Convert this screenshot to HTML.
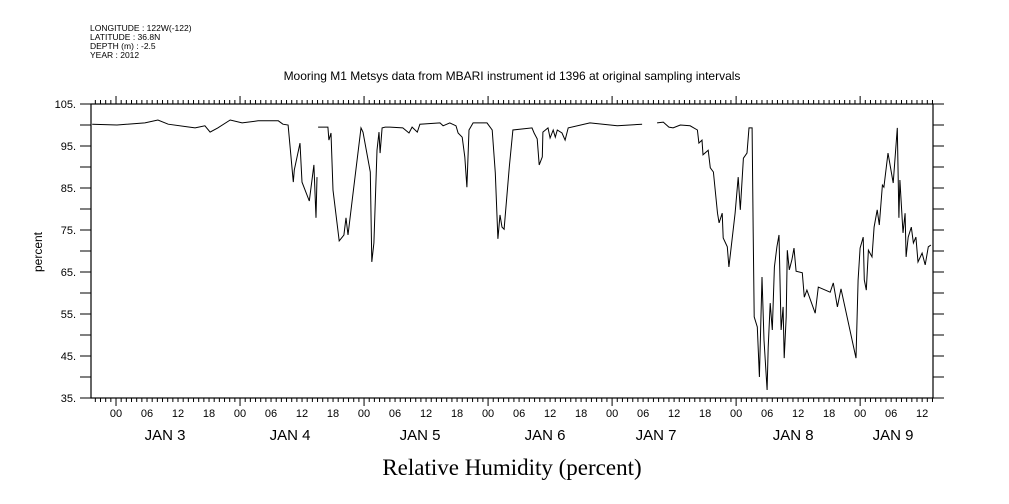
<!DOCTYPE html>
<html><head><meta charset="utf-8"><style>
body{margin:0;background:#fff}
svg{display:block;font-family:"Liberation Sans",sans-serif}
</style></head><body>
<svg id="chart" width="1009" height="504" viewBox="0 0 1009 504">
<g font-size="8.5" fill="#000">
<text x="90" y="31">LONGITUDE : 122W(-122)</text>
<text x="90" y="40">LATITUDE : 36.8N</text>
<text x="90" y="49">DEPTH (m) : -2.5</text>
<text x="90" y="58">YEAR : 2012</text>
</g>
<text x="512" y="80" font-size="12" text-anchor="middle">Mooring M1 Metsys data from MBARI instrument id 1396 at original sampling intervals</text>
<text x="0" y="0" font-size="12" text-anchor="middle" transform="translate(42,252) rotate(-90)">percent</text>
<text x="512" y="475" font-size="23" font-family="Liberation Serif, serif" text-anchor="middle">Relative Humidity (percent)</text>
<g id="axes"></g>
<g id="series"></g>
</svg>
<script>
const hours=[-4.6,0.2,5.6,8.1,10.1,15.3,17.2,18.2,19.7,22.1,24.4,27.5,31.4,32.3,33.3,34.3,34.5,35.6,36.0,37.4,38.3,38.7,38.9,null,
39.1,41.0,41.2,41.6,42.0,43.2,44.1,44.5,44.9,45.7,47.4,47.8,49.2,49.5,49.9,50.5,50.9,51.1,51.5,52.1,53.0,55.5,56.7,57.3,58.3,58.8,62.7,63.3,64.6,65.8,66.2,67.0,67.5,67.9,68.3,69.1,71.8,72.8,73.4,73.9,74.3,74.7,75.1,76.1,76.8,80.5,80.9,81.5,81.9,82.5,82.6,83.6,84.0,84.6,85.0,85.4,86.3,86.9,87.5,91.7,97.0,101.8,null,
104.7,105.9,107.0,107.8,109.2,111.1,112.5,112.8,113.4,113.6,114.6,115.0,115.6,116.4,116.7,117.3,117.5,118.3,118.6,119.2,119.8,120.4,120.8,121.4,122.1,122.5,123.1,123.3,123.5,124.1,124.5,125.0,125.4,126.0,126.2,126.6,127.0,127.4,127.9,128.3,128.7,129.1,129.3,129.7,129.9,130.3,130.8,131.2,131.6,132.8,133.2,133.7,135.3,135.9,138.2,138.8,139.6,140.3,143.2,143.6,144.0,144.6,144.8,145.2,145.6,146.3,146.7,147.3,147.7,148.3,148.6,149.4,150.4,151.2,151.5,151.7,152.3,152.7,152.9,153.3,153.9,154.3,154.8,155.2,156.0,156.6,157.2,157.7];
const humidity=[100.2,100.0,100.5,101.2,100.2,99.3,99.8,98.3,99.3,101.2,100.5,101,101,100.2,100,86.4,89.3,95.7,86.4,81.9,90.5,77.9,87.6,null,
99.5,99.5,96.4,98.1,84.5,72.4,73.8,77.9,73.8,82.1,99.3,98.3,88.8,67.4,71.9,94,98.3,93.3,99.3,99.5,99.5,99.3,98.1,99.5,98.3,100.2,100.5,99.8,100.5,99.8,98.1,97.1,92.4,85.2,98.8,100.5,100.5,98.8,88.6,72.9,78.6,75.7,75.2,90,98.8,99.3,98.1,96.7,90.5,92.4,98.3,99.3,96.9,98.8,97.1,98.8,98.1,96.4,99.3,100.5,99.8,100.2,null,
100.5,100.7,99.5,99.3,100,99.8,98.8,95.7,96.4,92.9,94,89.8,88.8,79,76.7,79,73.1,71,66.2,72.6,79,87.6,79.8,92.1,93.3,99.3,99.3,74.3,54.3,51.9,40,63.8,48.8,36.9,47.1,57.6,51.2,66.2,71,73.8,51.2,56.7,44.5,54.3,70.2,65.5,67.9,70.7,65.2,64.8,59,60.7,55.2,61.4,60.2,62.4,56.7,61,44.5,63.1,70.7,73.3,63.1,60.7,70.2,68.6,75.7,79.8,76.2,85.7,85.2,93.3,86.2,99.3,77.9,86.9,74.3,79,68.6,73.3,75.7,71.9,73.3,67.4,69.5,66.7,71,71.4];
const yTickValues=[105,95,85,75,65,55,45,35];
const yTickLabels=["105.","95.","85.","75.","65.","55.","45.","35."];
const hourLabels=["00","06","12","18"];
const dayLabels=["JAN  3","JAN  4","JAN  5","JAN  6","JAN  7","JAN  8","JAN  9"];

const L=91,R=933,T=104,B=398;
const hMin=-4.84,hMax=158.1,yMin=35,yMax=105;
const xs=h=>L+(h-hMin)/(hMax-hMin)*(R-L);
const ys=v=>B-(v-yMin)/(yMax-yMin)*(B-T);
const dayLabelShift=[-13,-12,-6,-5,-18,-5,0];
const NS='http://www.w3.org/2000/svg';
function mk(tag,attrs,parent){const e=document.createElementNS(NS,tag);for(const k in attrs)e.setAttribute(k,attrs[k]);parent.appendChild(e);return e;}
const ax=document.getElementById('axes');
const frame=mk('rect',{x:L,y:T,width:R-L,height:B-T,fill:'none',stroke:'#000','stroke-width':1.2},ax);


let d='';
for(let v=35;v<=105;v+=5){const y=ys(v);d+=`M${L-11} ${y}H${L}M${R} ${y}H${R+11}`;}
for(let h=Math.ceil(hMin);h<=hMax;h++){const x=xs(h);const major=((h%24)+24)%24===0;
 d+=`M${x} ${T}V${T-(major?8:4)}M${x} ${B}V${B+(major?8:4)}`;}
const tk=mk('path',{d:d,stroke:'#000','stroke-width':1,fill:'none'},ax);


yTickValues.forEach((v,i)=>{const t=mk('text',{x:76,y:ys(v)+4,'font-size':11,'text-anchor':'end'},ax);t.textContent=yTickLabels[i];
 
 });
for(let day=0;day<7;day++){
 for(let k=0;k<4;k++){const h=day*24+k*6;if(h>hMax)continue;const t=mk('text',{x:xs(h),y:417,'font-size':11,'text-anchor':'middle'},ax);t.textContent=hourLabels[k];
  
  }
 let cx=xs(day*24+12);if(cx>R-30)cx=R-40;
 cx+=dayLabelShift[day];
 const t=mk('text',{x:cx,y:440,'font-size':15,'text-anchor':'middle','xml:space':'preserve'},ax);t.textContent=dayLabels[day];
 
 
}
let p='',pen=false;
hours.forEach((h,i)=>{const v=humidity[i];if(h===null||v===null){pen=false;return;}p+=(pen?'L':'M')+xs(h).toFixed(1)+' '+ys(v).toFixed(1);pen=true;});
const line=mk('path',{d:p,fill:'none',stroke:'#000','stroke-width':1},document.getElementById('series'));


</script>
</body></html>
